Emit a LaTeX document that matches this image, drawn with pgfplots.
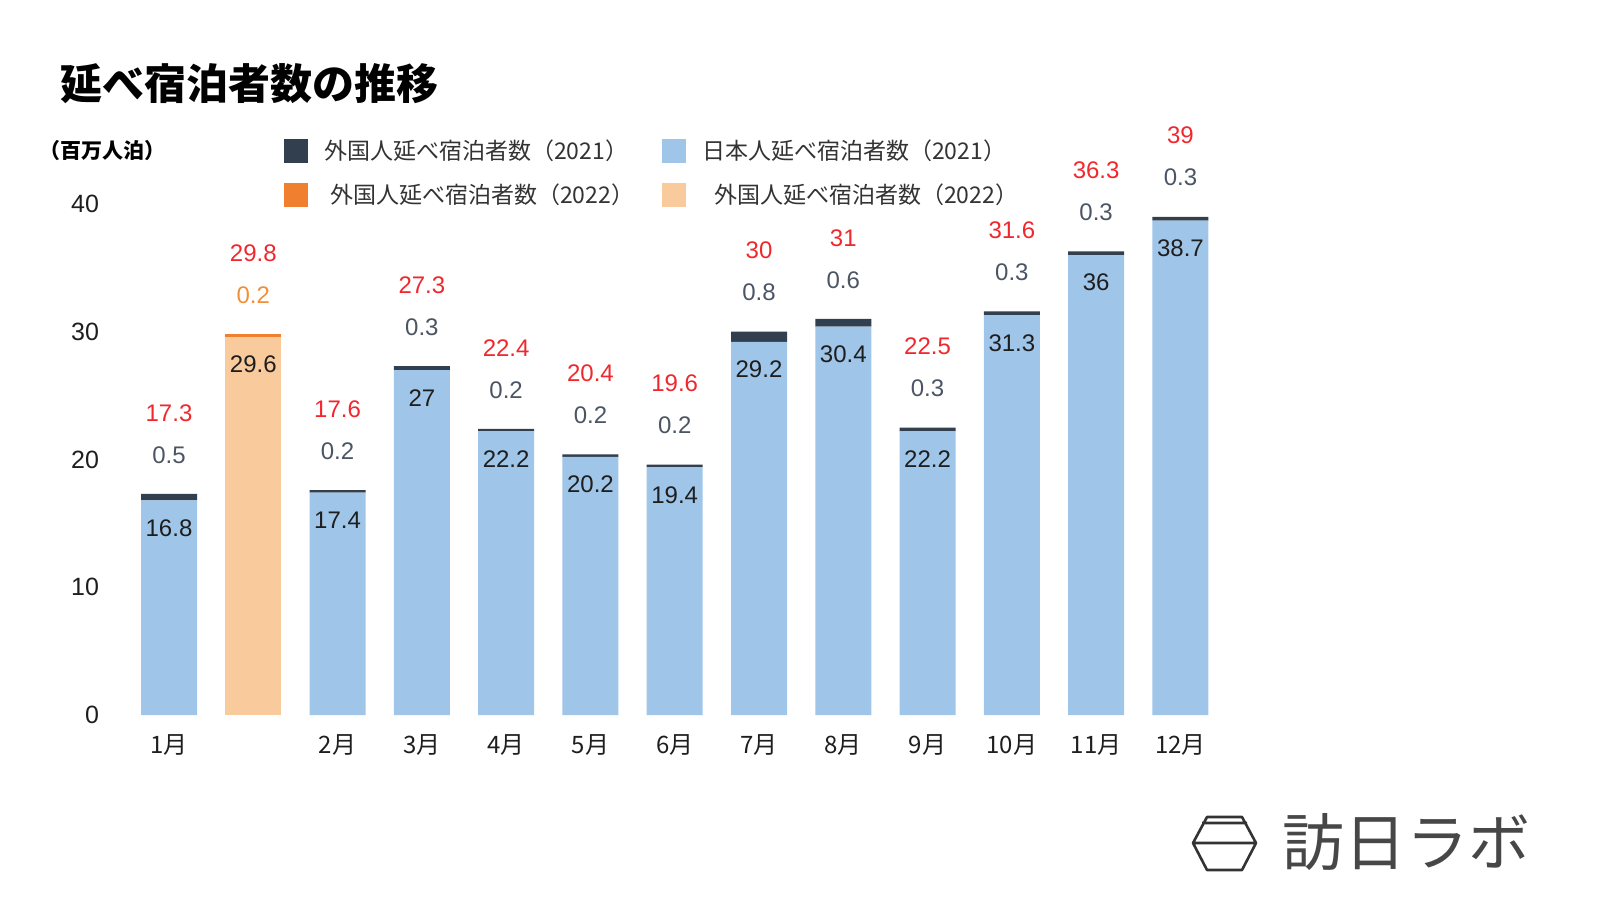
\documentclass[border=0pt]{standalone}
\usepackage{pgfplots}
\pgfplotsset{compat=1.18}
\usepackage{pgfplotstable}
\usepackage{fontspec}
\setmainfont{Liberation Sans}
\newfontfamily\cjk{Noto Sans CJK JP}
\definecolor{navy}{HTML}{323F4F}
\definecolor{lightblue}{HTML}{9FC5E8}
\definecolor{orange}{HTML}{F0802F}
\definecolor{lightorange}{HTML}{F9CB9C}
\definecolor{labred}{HTML}{F0282D}
\definecolor{labgray}{HTML}{4B5563}
\definecolor{laborange}{HTML}{F0903A}
\definecolor{labdark}{HTML}{1E1E1E}
\newcommand\ifnz[1]{\edef\tmpa{\pgfplotspointmeta}\def\tmpb{0}\ifx\tmpa\tmpb\else#1\fi}
\pgfplotsset{sq/.style={legend image code/.code={\fill[##1,draw=none] (0pt,-6pt) rectangle (12pt,6pt); \path[draw=none,fill=none] (18pt,0pt);}}}
\pgfplotstableread{
x jp fr jp22 fr22 tot
0 16.8 0.5 0 0 17.3
1 0 0 29.6 0.2 29.8
2 17.4 0.2 0 0 17.6
3 27 0.3 0 0 27.3
4 22.2 0.2 0 0 22.4
5 20.2 0.2 0 0 20.4
6 19.4 0.2 0 0 19.6
7 29.2 0.8 0 0 30
8 30.4 0.6 0 0 31
9 22.2 0.3 0 0 22.5
10 31.3 0.3 0 0 31.6
11 36 0.3 0 0 36.3
12 38.7 0.3 0 0 39
}\data
\begin{document}
\begin{tikzpicture}
\path[use as bounding box] (0pt,0pt) rectangle (800pt,450pt);
\node[anchor=west, inner sep=0pt, font=\cjk\bfseries\fontsize{21}{25}\selectfont] at (30pt,408pt) {延べ宿泊者数の推移};
\node[anchor=west, inner sep=0pt, font=\cjk\bfseries\fontsize{10.5}{12}\selectfont] at (19.5pt,374.5pt) {（百万人泊）};
\begin{axis}[
  at={(55pt,92.5pt)}, anchor=south west,
  scale only axis, width=560.5pt, height=255.5pt,
  xmin=-0.7, xmax=12.6, ymin=0, ymax=40,
  ybar stacked, bar width=28pt,
  clip=false,
  axis line style={draw=none}, tick style={draw=none}, major tick length=0pt,
  ytick={0,10,20,30,40},
  xtick={0,...,12},
  xticklabels={1月,,2月,3月,4月,5月,6月,7月,8月,9月,10月,11月,12月},
  /pgf/number format/assume math mode=true,
  yticklabel style={font=\fontsize{12.5}{14}\selectfont, text=labdark, xshift=-2pt},
  xticklabel style={font=\cjk\fontsize{12}{14}\selectfont, text=labdark, yshift=-6.5pt},
  legend style={draw=none, fill=none, inner sep=0pt, anchor=north west,
    at={(axis description cs:0.155,1.135)},
    legend columns=2, font=\cjk\fontsize{11.5}{14}\selectfont, text=black!80,
    /tikz/every even column/.append style={column sep=12pt},
    row sep=7pt},
  legend cell align=left,
]
\addlegendimage{sq, fill=navy}
\addlegendimage{sq, fill=lightblue}
\addlegendimage{sq, fill=orange}
\addlegendimage{sq, fill=lightorange}
\addplot[fill=lightblue, draw=none, point meta=explicit symbolic,
  visualization depends on={3.19375*\thisrow{jp}-13.8\as\sh},
  nodes near coords={\ifnz{\pgfplotspointmeta}},
  every node near coord/.append style={anchor=center, yshift=\sh pt, text=labdark, font=\fontsize{12}{14}\selectfont}]
  table[x=x, y=jp, meta=jp] {\data};
\addplot[fill=navy, draw=none, point meta=explicit symbolic,
  visualization depends on={\thisrow{tot}\as\mytot},
  visualization depends on={3.19375*\thisrow{fr}+15.2\as\sh},
  nodes near coords={\ifnz{{\color{labred}\pgfmathprintnumber{\mytot}}\\\pgfplotspointmeta}},
  every node near coord/.append style={anchor=south, inner sep=0pt, text depth=0pt, align=center, yshift=\sh pt, text=labgray, font=\fontsize{12}{21}\selectfont}]
  table[x=x, y=fr, meta=fr] {\data};
\addplot[fill=lightorange, draw=none, point meta=explicit symbolic,
  visualization depends on={3.19375*\thisrow{jp22}-13.8\as\sh},
  nodes near coords={\ifnz{\pgfplotspointmeta}},
  every node near coord/.append style={anchor=center, yshift=\sh pt, text=labdark, font=\fontsize{12}{14}\selectfont}]
  table[x=x, y=jp22, meta=jp22] {\data};
\addplot[fill=orange, draw=none, point meta=explicit symbolic,
  visualization depends on={\thisrow{tot}\as\mytot},
  visualization depends on={3.19375*\thisrow{fr22}+15.2\as\sh},
  nodes near coords={\ifnz{{\color{labred}\pgfmathprintnumber{\mytot}}\\\pgfplotspointmeta}},
  every node near coord/.append style={anchor=south, inner sep=0pt, text depth=0pt, align=center, yshift=\sh pt, text=laborange, font=\fontsize{12}{21}\selectfont}]
  table[x=x, y=fr22, meta=fr22] {\data};
\legend{外国人延べ宿泊者数（2021）,日本人延べ宿泊者数（2021）,\hspace{3pt}外国人延べ宿泊者数（2022）,\hspace{6pt}外国人延べ宿泊者数（2022）}
\end{axis}
% logo
\draw[black!80, line width=1.3pt, line join=round]
  (596.5pt,28.5pt) -- (603.5pt,41.5pt) -- (621pt,41.5pt) -- (628pt,28.5pt) -- (621pt,15pt) -- (603.5pt,15pt) -- cycle
  (596.5pt,28.5pt) -- (628pt,28.5pt)
  (601pt,38.5pt) -- (623.5pt,38.5pt);
\node[anchor=west, inner sep=0pt, text=black!72, font=\cjk\fontsize{31}{34}\selectfont] at (641pt,29pt) {訪日ラボ};
\end{tikzpicture}
\end{document}
